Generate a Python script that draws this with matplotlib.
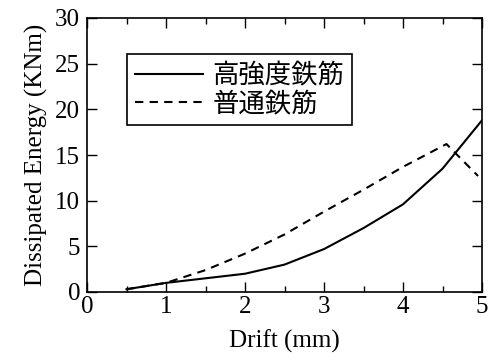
import matplotlib
matplotlib.use("Agg")
import matplotlib.pyplot as plt
from matplotlib.ticker import MultipleLocator

# Data
high_x = [0.5, 1.0, 1.5, 2.0, 2.5, 3.0, 3.5, 4.0, 4.5, 5.0]
high_y = [0.3, 1.0, 1.5, 2.0, 3.0, 4.7, 7.0, 9.6, 13.5, 18.8]
norm_x = [0.5, 1.0, 1.5, 2.0, 2.5, 3.0, 3.5, 4.0, 4.55, 4.95]
norm_y = [0.3, 1.0, 2.4, 4.2, 6.3, 8.8, 11.2, 13.7, 16.2, 12.7]
labels = ["高強度鉄筋", "普通鉄筋"]
xlabel = "Drift (mm)"
ylabel = "Dissipated Energy (KNm)"

plt.rcParams['font.family'] = ['Liberation Serif', 'Noto Sans CJK JP']

fig = plt.figure(figsize=(4.94, 3.62), dpi=100)
ax = fig.add_axes([87/494, 70/362, 395/494, 274/362])

ax.plot(high_x, high_y, color='black', lw=1.5, linestyle='-', label=labels[0])
ax.plot(norm_x, norm_y, color='black', lw=1.5, linestyle=(0, (4, 3)), label=labels[1])

ax.set_xlim(0, 5)
ax.set_ylim(0, 30)
ax.xaxis.set_major_locator(MultipleLocator(1))
ax.xaxis.set_minor_locator(MultipleLocator(0.5))
ax.yaxis.set_major_locator(MultipleLocator(5))
ax.tick_params(which='both', direction='in', top=True, right=True, labelsize=18)
ax.tick_params(axis='y', pad=5)
ax.tick_params(axis='x', pad=3)
ax.tick_params(which='major', length=7, width=1)
ax.tick_params(which='minor', length=4, width=1)
for s in ax.spines.values():
    s.set_linewidth(1.2)

ax.set_xlabel(xlabel, fontsize=18, labelpad=8)
ax.set_ylabel(ylabel, fontsize=18, labelpad=5)

leg = ax.legend(loc='upper left', bbox_to_anchor=(0.101, 0.868),
                prop={'family': ['Noto Sans CJK JP'], 'size': 19},
                frameon=True, fancybox=False, edgecolor='black', framealpha=1,
                handlelength=2.6, handletextpad=0.35, borderpad=0.3, labelspacing=0.05,
                borderaxespad=0)
leg.get_frame().set_linewidth(1.2)

fig.savefig("out.png", dpi=100)
